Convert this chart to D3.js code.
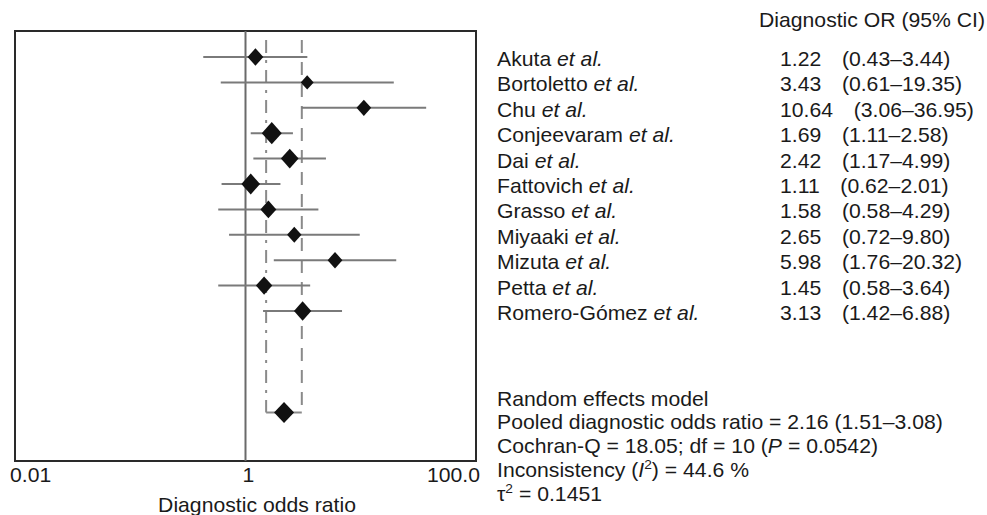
<!DOCTYPE html>
<html>
<head>
<meta charset="utf-8">
<script src="https://cdn.jsdelivr.net/npm/d3@7"></script>
<style>
  html, body { margin: 0; padding: 0; background: #fff; }
  svg { display: block; }
  text { font-family: "Liberation Sans", Arial, Helvetica, sans-serif; fill: #1a1a1a; }
</style>
</head>
<body>
<svg id="chart" width="987" height="515"></svg>
<script>
// ---------- data ----------
const studies = ["Akuta", "Bortoletto", "Chu", "Conjeevaram", "Dai", "Fattovich",
                 "Grasso", "Miyaaki", "Mizuta", "Petta", "Romero-Gómez"];
const oddsRatio = [1.22, 3.43, 10.64, 1.69, 2.42, 1.11, 1.58, 2.65, 5.98, 1.45, 3.13];
const ciLow     = [0.43, 0.61, 3.06, 1.11, 1.17, 0.62, 0.58, 0.72, 1.76, 0.58, 1.42];
const ciHigh    = [3.44, 19.35, 36.95, 2.58, 4.99, 2.01, 4.29, 9.80, 20.32, 3.64, 6.88];
const studyWeight = [7.8, 3.6, 6.0, 17.2, 11.7, 14.0, 8.1, 5.6, 6.2, 9.0, 10.8]; // relative weights (%)
const pooledOR = 2.16, pooledLow = 1.51, pooledHigh = 3.08;
const tickValues = [0.01, 1, 100];
const tickLabels = ["0.01", "1", "100.0"];
const headerLabel = "Diagnostic OR (95% CI)";
const xAxisTitle = "Diagnostic odds ratio";

// ---------- layout ----------
const svg = d3.select("#chart");
const box = { left: 15, right: 476, top: 31, bottom: 461 };
const x = d3.scaleLog().domain([0.01, 100]).range([box.left, box.right]);
const rowIndex = d3.scaleLinear().domain([0, 14]).range([57, 412.6]);
const pooledRow = 14;
const size = d3.scaleSqrt().domain([0, d3.max(studyWeight)]).range([6, 19]);
const fmt = d3.format(".2f");
const FS = 20, SX = 1.06; // font size and horizontal stretch of the reference typeface

function place(sel, px, py) {
  return sel.attr("transform", `translate(${px},${py}) scale(${SX},1)`);
}

// plot frame
svg.append("rect")
  .attr("x", box.left).attr("y", box.top)
  .attr("width", box.right - box.left).attr("height", box.bottom - box.top)
  .attr("fill", "#fff").attr("stroke", "#2a2a2a").attr("stroke-width", 2);

// reference line at OR = 1
svg.append("line")
  .attr("x1", x(1)).attr("x2", x(1))
  .attr("y1", box.top).attr("y2", box.bottom)
  .attr("stroke", "#6a6a6a").attr("stroke-width", 2);

// pooled CI vertical guides
const guideTop = 40;
svg.append("line")
  .attr("x1", x(pooledLow)).attr("x2", x(pooledLow))
  .attr("y1", guideTop).attr("y2", rowIndex(pooledRow))
  .attr("stroke", "#8a8a8a").attr("stroke-width", 2)
  .attr("stroke-dasharray", "13,7,3,7");
svg.append("line")
  .attr("x1", x(pooledHigh)).attr("x2", x(pooledHigh))
  .attr("y1", guideTop).attr("y2", rowIndex(pooledRow))
  .attr("stroke", "#8a8a8a").attr("stroke-width", 2)
  .attr("stroke-dasharray", "13,9");

// study CI lines
const idx = d3.range(studies.length);
svg.append("g").selectAll("line").data(idx).join("line")
  .attr("x1", i => x(ciLow[i])).attr("x2", i => x(ciHigh[i]))
  .attr("y1", i => rowIndex(i)).attr("y2", i => rowIndex(i))
  .attr("stroke", "#7a7a7a").attr("stroke-width", 2);

// diamonds
function diamond(cx, cy, w, h) {
  return `M${cx},${cy - h / 2}L${cx + w / 2},${cy}L${cx},${cy + h / 2}L${cx - w / 2},${cy}Z`;
}
svg.append("g").selectAll("path").data(idx).join("path")
  .attr("d", i => diamond(x(oddsRatio[i]), rowIndex(i), size(studyWeight[i]) + 1, size(studyWeight[i]) * 1.12 + 1))
  .attr("fill", "#111");

// pooled line + diamond
svg.append("line")
  .attr("x1", x(pooledLow)).attr("x2", x(pooledHigh))
  .attr("y1", rowIndex(pooledRow)).attr("y2", rowIndex(pooledRow))
  .attr("stroke", "#8a8a8a").attr("stroke-width", 2);
svg.append("path")
  .attr("d", diamond(x(pooledOR), rowIndex(pooledRow), 20, 21))
  .attr("fill", "#111");

// x axis
const axis = d3.axisBottom(x)
  .tickValues(tickValues)
  .tickFormat((d, i) => tickLabels[i])
  .tickSize(0).tickPadding(7);
const gAxis = svg.append("g").attr("transform", `translate(0,${box.bottom})`).call(axis);
gAxis.select(".domain").remove();
gAxis.selectAll("text")
  .attr("font-size", FS)
  .style("font-family", '"Liberation Sans", Arial, Helvetica, sans-serif')
  .attr("fill", "#1a1a1a");
gAxis.selectAll(".tick").filter((d, i) => i === 0).select("text")
  .attr("text-anchor", "start").attr("dx", -5);
gAxis.selectAll(".tick").filter((d, i) => i === tickValues.length - 1).select("text")
  .attr("text-anchor", "end").attr("dx", 4);
gAxis.selectAll(".tick").filter((d, i) => i === 1).select("text").attr("dx", 3);
gAxis.selectAll(".tick text").each(function () {
  const t = d3.select(this);
  t.attr("transform", `scale(${SX},1)`)
   .attr("x", (+t.attr("dx") || 0) / SX).attr("dx", null);
});
gAxis.selectAll(".tick").attr("transform", d => `translate(${x(d)},0)`);

place(svg.append("text"), 257, 512)
  .attr("text-anchor", "middle").attr("font-size", FS)
  .text(xAxisTitle);

// right-hand table
place(svg.append("text"), 759, 27).attr("font-size", FS).text(headerLabel);

const nameX = 497, valX = 780, ciGap = 19.5;
const rows = svg.append("g").selectAll("g").data(idx).join("g");
const nameText = rows.append("text").attr("font-size", FS)
  .attr("transform", i => `translate(${nameX},${rowIndex(i) + 9}) scale(${SX},1)`);
nameText.append("tspan").text(i => studies[i] + " ");
nameText.append("tspan").attr("font-style", "italic").text("et al.");

const valText = rows.append("text").attr("font-size", FS)
  .attr("transform", i => `translate(${valX},${rowIndex(i) + 9}) scale(${SX},1)`);
valText.append("tspan").text(i => fmt(oddsRatio[i]));
valText.append("tspan").attr("dx", ciGap)
  .text(i => `(${fmt(ciLow[i])}–${fmt(ciHigh[i])})`);

// summary statistics
const statsX = 497, statsY0 = 405.7, statsStep = 23.7;
const stats = svg.append("g").attr("font-size", FS);
place(stats.append("text"), statsX, statsY0).text("Random effects model");
place(stats.append("text"), statsX, statsY0 + statsStep)
  .text(`Pooled diagnostic odds ratio = ${fmt(pooledOR)} (${fmt(pooledLow)}–${fmt(pooledHigh)})`);
const q = place(stats.append("text"), statsX, statsY0 + 2 * statsStep);
q.append("tspan").text("Cochran-Q = 18.05; df = 10 (");
q.append("tspan").attr("font-style", "italic").text("P");
q.append("tspan").text(" = 0.0542)");
const inc = place(stats.append("text"), statsX, statsY0 + 3 * statsStep);
inc.append("tspan").text("Inconsistency (");
inc.append("tspan").attr("font-style", "italic").text("I");
inc.append("tspan").attr("font-size", 13).attr("dy", -8).text("2");
inc.append("tspan").attr("dy", 8).text(") = 44.6 %");
const tau = place(stats.append("text"), statsX, statsY0 + 4 * statsStep);
tau.append("tspan").text("τ");
tau.append("tspan").attr("font-size", 13).attr("dy", -8).text("2");
tau.append("tspan").attr("dy", 8).text(" = 0.1451");
</script>
</body>
</html>
